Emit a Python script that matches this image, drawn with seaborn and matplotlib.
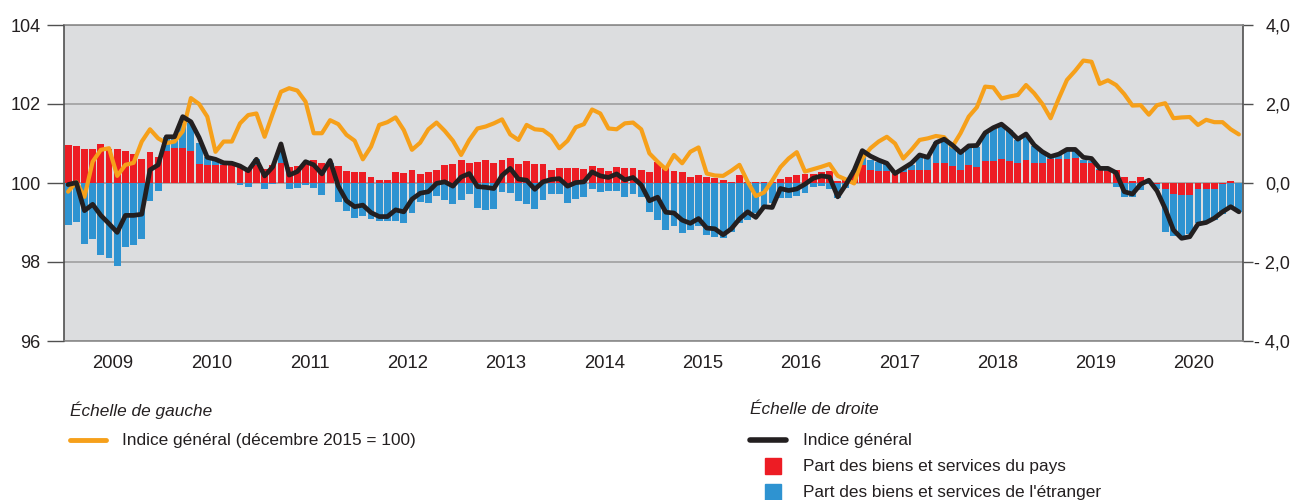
import numpy as np
import pandas as pd
import matplotlib.pyplot as plt
import seaborn as sns
from matplotlib.lines import Line2D
from matplotlib.patches import Rectangle

# Années (12 mois chacune, janvier 2009 - décembre 2020)
years = [str(y) for y in range(2009, 2021)]

# Échelle de gauche : indice général (décembre 2015 = 100)
indice = [
    99.78, 100.03, 99.65, 100.54, 100.84, 100.88, 100.18, 100.46, 100.51, 101.05, 101.36, 101.13,
    101.01, 101.05, 101.31, 102.15, 102.00, 101.68, 100.79, 101.05, 101.05, 101.51, 101.72, 101.76,
    101.17, 101.76, 102.31, 102.40, 102.34, 102.06, 101.26, 101.26, 101.59, 101.49, 101.22, 101.07,
    100.60, 100.92, 101.47, 101.54, 101.66, 101.34, 100.84, 101.02, 101.36, 101.53, 101.32, 101.07,
    100.71, 101.09, 101.38, 101.43, 101.51, 101.61, 101.23, 101.09, 101.47, 101.36, 101.34, 101.19,
    100.88, 101.07, 101.41, 101.49, 101.86, 101.76, 101.38, 101.36, 101.51, 101.53, 101.36, 100.75,
    100.54, 100.35, 100.71, 100.50, 100.79, 100.90, 100.24, 100.19, 100.18, 100.31, 100.46, 100.03,
    99.67, 99.76, 100.06, 100.40, 100.62, 100.78, 100.29, 100.35, 100.41, 100.48, 100.18, 100.09,
    99.99, 100.62, 100.88, 101.05, 101.17, 101.00, 100.62, 100.84, 101.09, 101.13, 101.19, 101.16,
    100.92, 101.26, 101.68, 101.92, 102.44, 102.42, 102.14, 102.19, 102.23, 102.48, 102.27, 102.00,
    101.64, 102.14, 102.61, 102.84, 103.10, 103.07, 102.51, 102.60, 102.48, 102.25, 101.96, 101.97,
    101.73, 101.97, 102.02, 101.64, 101.66, 101.67, 101.47, 101.60, 101.54, 101.54, 101.36, 101.23,
]

# Échelle de droite : variation de l'indice général (%)
variation = [
    -0.04, 0.01, -0.70, -0.54, -0.82, -1.03, -1.25, -0.82, -0.82, -0.79, 0.33, 0.46,
    1.17, 1.17, 1.68, 1.55, 1.15, 0.65, 0.60, 0.51, 0.50, 0.43, 0.31, 0.60,
    0.18, 0.41, 0.99, 0.20, 0.29, 0.54, 0.46, 0.23, 0.57, -0.08, -0.45, -0.60,
    -0.56, -0.75, -0.85, -0.85, -0.68, -0.73, -0.41, -0.26, -0.22, -0.01, 0.03, -0.08,
    0.15, 0.24, -0.09, -0.11, -0.14, 0.19, 0.37, 0.10, 0.07, -0.16, 0.03, 0.09,
    0.11, -0.08, 0.01, 0.03, 0.28, 0.18, 0.14, 0.23, 0.08, 0.14, -0.05, -0.45,
    -0.36, -0.74, -0.76, -0.94, -1.02, -0.90, -1.14, -1.16, -1.31, -1.16, -0.91, -0.73,
    -0.87, -0.60, -0.62, -0.14, -0.19, -0.15, -0.03, 0.12, 0.18, 0.15, -0.35, -0.04,
    0.32, 0.82, 0.68, 0.58, 0.50, 0.24, 0.37, 0.50, 0.71, 0.65, 1.02, 1.11,
    0.96, 0.77, 0.94, 0.95, 1.27, 1.40, 1.49, 1.32, 1.11, 1.24, 0.96, 0.79,
    0.67, 0.73, 0.85, 0.85, 0.65, 0.62, 0.37, 0.37, 0.26, -0.22, -0.28, -0.03,
    0.07, -0.20, -0.65, -1.19, -1.40, -1.36, -1.04, -1.00, -0.89, -0.73, -0.60, -0.73,
]

# Contribution des biens et services du pays
part_pays = [
    0.96, 0.94, 0.86, 0.86, 1.00, 0.86, 0.86, 0.80, 0.74, 0.61, 0.78, 0.66,
    0.82, 0.88, 0.88, 0.80, 0.47, 0.46, 0.46, 0.45, 0.47, 0.45, 0.38, 0.46,
    0.35, 0.46, 0.50, 0.40, 0.43, 0.54, 0.58, 0.51, 0.43, 0.44, 0.31, 0.28,
    0.28, 0.14, 0.08, 0.08, 0.28, 0.25, 0.33, 0.23, 0.27, 0.34, 0.46, 0.47,
    0.57, 0.50, 0.52, 0.57, 0.50, 0.59, 0.63, 0.49, 0.55, 0.48, 0.48, 0.34,
    0.38, 0.38, 0.38, 0.35, 0.44, 0.37, 0.30, 0.40, 0.37, 0.37, 0.33, 0.27,
    0.52, 0.44, 0.30, 0.27, 0.16, 0.19, 0.16, 0.12, 0.08, 0.02, 0.20, 0.02,
    0.02, 0.02, 0.02, 0.10, 0.14, 0.19, 0.24, 0.23, 0.27, 0.30, 0.05, 0.08,
    0.25, 0.45, 0.33, 0.31, 0.30, 0.22, 0.27, 0.32, 0.33, 0.32, 0.50, 0.51,
    0.44, 0.33, 0.46, 0.41, 0.55, 0.55, 0.62, 0.55, 0.51, 0.57, 0.50, 0.50,
    0.60, 0.60, 0.60, 0.64, 0.50, 0.50, 0.32, 0.30, 0.32, 0.16, 0.06, 0.14,
    0.03, -0.02, -0.15, -0.27, -0.30, -0.30, -0.15, -0.15, -0.15, -0.02, 0.05, -0.01,
]

# Contribution des biens et services de l'étranger
part_etranger = [
    -1.06, -0.98, -1.55, -1.42, -1.83, -1.91, -2.10, -1.61, -1.58, -1.42, -0.45, -0.21,
    0.35, 0.30, 0.62, 0.72, 0.55, 0.19, 0.14, 0.06, 0.03, -0.05, -0.09, 0.14,
    -0.16, -0.03, 0.40, -0.16, -0.13, -0.05, -0.13, -0.30, 0.08, -0.48, -0.72, -0.89,
    -0.84, -0.90, -0.95, -0.95, -0.97, -1.00, -0.76, -0.49, -0.51, -0.34, -0.43, -0.54,
    -0.42, -0.28, -0.63, -0.69, -0.65, -0.22, -0.26, -0.46, -0.52, -0.65, -0.43, -0.27,
    -0.29, -0.50, -0.41, -0.35, -0.15, -0.24, -0.19, -0.19, -0.35, -0.27, -0.35, -0.74,
    -0.94, -1.20, -1.10, -1.26, -1.20, -1.10, -1.32, -1.36, -1.39, -1.25, -1.00, -0.93,
    -0.77, -0.64, -0.50, -0.38, -0.39, -0.33, -0.26, -0.11, -0.08, -0.14, -0.38, -0.12,
    0.08, 0.27, 0.26, 0.22, 0.18, 0.02, 0.08, 0.14, 0.33, 0.33, 0.55, 0.60,
    0.51, 0.46, 0.46, 0.50, 0.72, 0.82, 0.81, 0.78, 0.58, 0.63, 0.43, 0.28,
    0.08, 0.13, 0.22, 0.17, 0.08, 0.05, 0.04, 0.06, -0.11, -0.35, -0.35, -0.18,
    -0.03, -0.14, -1.08, -1.07, -1.06, -1.00, -0.85, -0.83, -0.78, -0.76, -0.62, -0.72,
]

ORANGE = '#F6A01A'
BLACK = '#231F20'
RED = '#ED1C24'
BLUE = '#2E93D1'
BG = '#DCDDDF'
TXT = '#231F20'

df = pd.DataFrame({
    'mois': np.arange(len(indice)),
    'indice': indice,
    'variation': variation,
    'pays': part_pays,
    'etranger': part_etranger,
})
# la part étrangère s'empile sur la part du pays quand les signes concordent
meme_signe = np.sign(df['pays']) == np.sign(df['etranger'])
df['etranger_cumul'] = np.where(meme_signe, df['pays'] + df['etranger'], df['etranger'])

sns.set_style('white')
plt.rcParams['font.family'] = ['Liberation Sans', 'DejaVu Sans']

fig = plt.figure(figsize=(12.93, 5.0), dpi=100)
ax = fig.add_axes([64 / 1293, 1 - 341 / 500, (1243 - 64) / 1293, (341 - 25) / 500])
ax.set_facecolor(BG)
ax_o = ax.twinx()
ax_k = ax.twinx()

# barres (échelle de droite)
sns.barplot(x=df['mois'], y=df['etranger_cumul'], ax=ax, native_scale=True, color=BLUE,
            saturation=1, width=0.84, errorbar=None, linewidth=0)
sns.barplot(x=df['mois'], y=df['pays'], ax=ax, native_scale=True, color=RED,
            saturation=1, width=0.84, errorbar=None, linewidth=0)

# indice (échelle de gauche)
sns.lineplot(x=df['mois'], y=df['indice'], ax=ax_o, color=ORANGE, lw=3.0)
# variation (échelle de droite)
sns.lineplot(x=df['mois'], y=df['variation'], ax=ax_k, color=BLACK, lw=3.4)

for a in (ax, ax_o, ax_k):
    a.set_xlabel('')
    a.set_ylabel('')

ax.set_ylim(-4, 4)
ax_k.set_ylim(-4, 4)
ax_o.set_ylim(96, 104)
ax.set_xlim(-0.5, len(indice) - 0.5)

# grille
ax.set_yticks([-4, -2, 0, 2, 4])
ax.set_yticklabels(['- 4,0', '- 2,0', '0,0', '2,0', '4,0'])
ax.yaxis.grid(True, color='#9a9a9a', lw=1.1)
ax.set_axisbelow(True)
ax.yaxis.tick_right()
ax.tick_params(axis='y', length=7, width=1, color='#505050', pad=27,
               labelsize=13, labelcolor=TXT)
for lbl in ax.get_yticklabels():
    lbl.set_ha('right')

ax_o.yaxis.tick_left()
ax_o.set_yticks([96, 98, 100, 102, 104])
ax_o.set_yticklabels(['96', '98', '100', '102', '104'])
ax_o.tick_params(axis='y', length=12, width=1, color='#505050', pad=5,
                 labelsize=13, labelcolor=TXT)

ax_k.set_yticks([])

# axe des années
ax.set_xticks(np.arange(-0.5, len(indice), 12))
ax.set_xticklabels([])
ax.set_xticks(np.arange(5.5, len(indice), 12), minor=True)
ax.set_xticklabels(years, minor=True)
ax.tick_params(axis='x', which='major', length=7, width=1, color='#505050', direction='out')
ax.tick_params(axis='x', which='minor', length=0, pad=10, labelsize=13.3, labelcolor=TXT)

for a in (ax_o, ax_k):
    for s in a.spines.values():
        s.set_visible(False)
for side in ('top', 'bottom'):
    ax.spines[side].set_color('#8a8a8a')
    ax.spines[side].set_linewidth(1.2)
for side in ('left', 'right'):
    ax.spines[side].set_color('#505050')
    ax.spines[side].set_linewidth(1.2)

# légende
def fx(px):
    return px / 1293

def fy(py):
    return 1 - py / 500

fs = 12.4
fig.text(fx(70), fy(410), 'Échelle de gauche', style='italic', fontsize=fs, color=TXT, va='center')
fig.add_artist(Line2D([fx(70), fx(106)], [fy(440), fy(440)], color=ORANGE, lw=3.5,
                      transform=fig.transFigure))
fig.text(fx(122), fy(440), 'Indice général (décembre 2015 = 100)', fontsize=fs, color=TXT, va='center')

fig.text(fx(750), fy(410), 'Échelle de droite', style='italic', fontsize=fs, color=TXT, va='center')
fig.add_artist(Line2D([fx(750), fx(786)], [fy(440), fy(440)], color=BLACK, lw=4,
                      transform=fig.transFigure))
fig.text(fx(803), fy(440), 'Indice général', fontsize=fs, color=TXT, va='center')
fig.add_artist(Rectangle((fx(765), fy(474)), fx(16), 16 / 500, color=RED,
                         transform=fig.transFigure))
fig.text(fx(803), fy(466), 'Part des biens et services du pays', fontsize=fs, color=TXT, va='center')
fig.add_artist(Rectangle((fx(765), fy(500)), fx(16), 16 / 500, color=BLUE,
                         transform=fig.transFigure))
fig.text(fx(803), fy(492), "Part des biens et services de l'étranger", fontsize=fs, color=TXT, va='center')

fig.savefig('out.png', dpi=100, facecolor='white')
